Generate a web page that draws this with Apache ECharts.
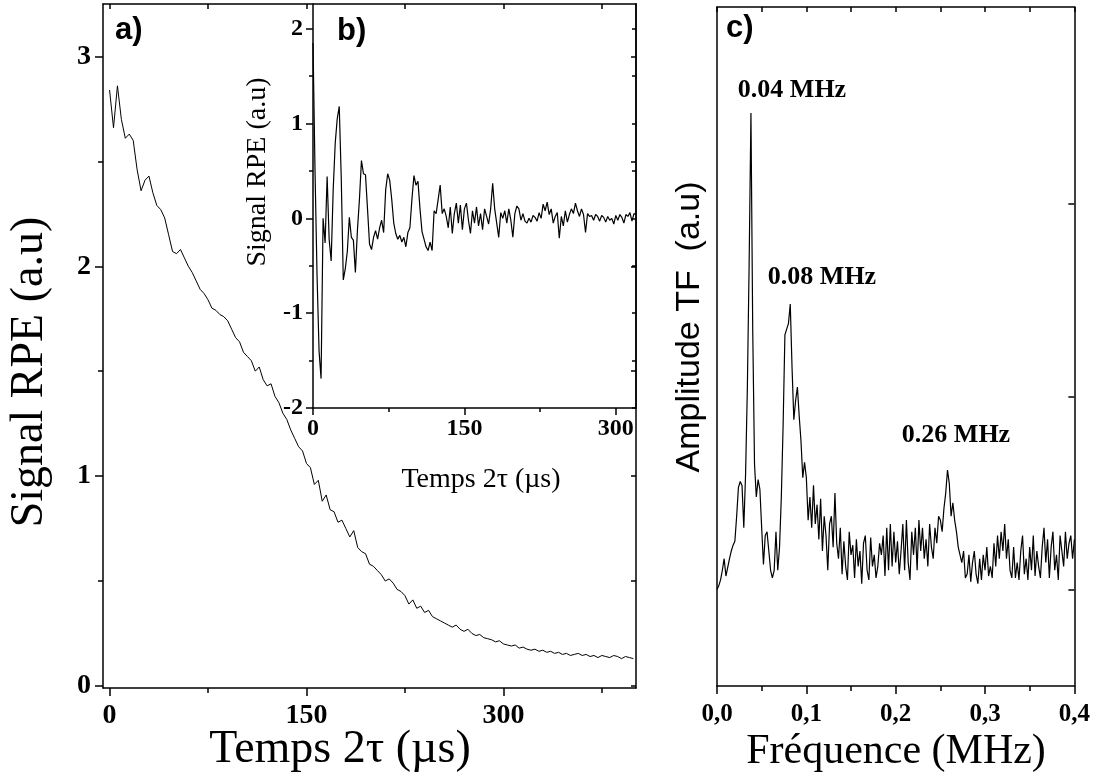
<!DOCTYPE html>
<html><head><meta charset="utf-8">
<script src="https://cdn.jsdelivr.net/npm/echarts@6/dist/echarts.min.js"></script>
<style>html,body{margin:0;padding:0;background:#fff}#c{width:1093px;height:780px}</style>
</head><body><div id="c"></div>
<script>
// ---- Panel a: echo decay (time sampling grid, µs) ----
const timeStepA = 3;
const signalA = [2.84,2.66,2.86,2.70,2.61,2.63,2.60,2.46,2.36,2.41,2.43,2.35,2.29,2.27,2.23,2.15,2.07,2.06,2.08,2.04,
2.00,1.97,1.93,1.89,1.87,1.84,1.80,1.79,1.77,1.76,1.74,1.70,1.66,1.64,1.59,1.57,1.55,1.50,1.52,1.46,
1.43,1.44,1.38,1.35,1.30,1.27,1.22,1.18,1.14,1.12,1.06,1.04,0.96,0.98,0.88,0.91,0.84,0.83,0.78,0.79,
0.75,0.71,0.74,0.66,0.64,0.63,0.58,0.57,0.55,0.53,0.50,0.51,0.49,0.46,0.45,0.43,0.39,0.41,0.37,0.38,
0.35,0.36,0.33,0.32,0.31,0.30,0.29,0.28,0.29,0.27,0.26,0.27,0.25,0.24,0.245,0.23,0.225,0.22,0.21,0.215,
0.20,0.195,0.19,0.195,0.18,0.185,0.175,0.17,0.175,0.165,0.17,0.16,0.165,0.155,0.16,0.15,0.155,0.145,0.15,0.155,
0.145,0.15,0.14,0.145,0.135,0.145,0.14,0.135,0.145,0.14,0.13,0.14,0.135,0.13];
const ticksAx = [0,150,300], minorAx = [75,225,375];
const ticksAy = [0,1,2,3], minorAy = [0.5,1.5,2.5];

// ---- Panel b: modulation (inset) ----
const timeStepB = 2;
const signalB = [1.85,0.50,-0.60,-1.40,-1.69,0.00,-0.26,0.44,-0.22,-0.45,0.30,0.79,1.05,1.18,0.42,-0.65,-0.53,-0.35,0.01,-0.20,
-0.23,-0.57,-0.13,0.20,0.61,0.47,0.46,0.10,-0.27,-0.33,-0.20,-0.13,-0.22,-0.10,-0.02,-0.15,0.30,0.47,0.40,0.20,
-0.05,-0.16,-0.22,-0.18,-0.25,-0.20,-0.30,-0.15,-0.10,0.20,0.45,0.35,0.39,0.10,-0.14,-0.22,-0.30,-0.34,-0.25,-0.34,
0.08,0.05,0.20,0.35,0.05,0.10,0.02,-0.10,0.12,-0.16,0.05,0.16,-0.05,0.14,-0.12,0.10,0.16,-0.02,-0.16,0.08,
-0.05,0.12,-0.08,0.05,-0.12,0.10,0.02,-0.06,0.10,0.37,0.10,-0.05,-0.20,0.06,0.00,0.08,-0.05,0.10,-0.02,-0.20,
0.05,0.13,0.10,-0.02,0.05,-0.03,-0.05,0.00,-0.04,0.03,0.01,-0.03,0.06,0.00,0.15,0.08,0.17,0.04,0.10,-0.05,
0.02,0.06,-0.21,0.02,-0.08,0.08,-0.04,0.04,0.10,0.05,0.16,0.08,0.02,0.10,0.04,-0.15,0.05,0.02,0.03,-0.02,
0.04,0.02,-0.03,0.03,0.01,-0.04,0.02,-0.02,0.00,-0.06,0.03,-0.02,0.04,0.01,-0.05,0.04,0.02,0.06,-0.03,0.05,0.04];
const ticksBx = [0,150,300], minorBx = [75,225];
const ticksBy = [-2,-1,0,1,2], minorBy = [-1.5,-0.5,0.5,1.5];

// ---- Panel c: Fourier transform ----
const freqStepC = 0.002;
const amplitudeC = [0.50,0.52,0.55,0.60,0.66,0.57,0.58,0.66,0.70,0.73,0.75,0.88,1.03,1.06,1.04,0.82,1.10,1.55,2.20,2.97,
1.84,1.15,0.98,1.07,1.02,0.82,0.63,0.78,0.80,0.70,0.60,0.56,0.60,0.80,0.60,0.72,0.98,1.35,1.82,1.85,
1.88,1.98,1.65,1.38,1.48,1.55,1.40,1.27,1.08,1.16,1.08,0.86,0.98,0.82,1.04,0.84,0.94,0.76,0.97,0.70,
0.88,0.78,0.60,0.84,0.88,0.72,1.00,0.74,0.66,0.82,0.58,0.75,0.62,0.55,0.80,0.68,0.73,0.56,0.76,0.62,
0.70,0.53,0.74,0.78,0.60,0.55,0.77,0.62,0.68,0.56,0.62,0.74,0.68,0.78,0.57,0.82,0.60,0.84,0.62,0.80,
0.64,0.75,0.58,0.70,0.84,0.60,0.86,0.64,0.55,0.80,0.68,0.82,0.60,0.86,0.70,0.82,0.66,0.76,0.62,0.84,
0.72,0.66,0.82,0.74,0.88,0.86,0.80,0.92,1.00,1.12,1.05,0.88,0.95,0.86,0.80,0.72,0.68,0.64,0.70,0.56,
0.58,0.68,0.54,0.64,0.70,0.58,0.53,0.66,0.55,0.68,0.60,0.72,0.57,0.62,0.56,0.74,0.62,0.78,0.66,0.80,
0.70,0.84,0.66,0.76,0.60,0.56,0.72,0.56,0.64,0.55,0.70,0.78,0.58,0.66,0.55,0.72,0.60,0.78,0.57,0.70,
0.62,0.56,0.72,0.82,0.64,0.76,0.56,0.72,0.80,0.60,0.68,0.55,0.78,0.70,0.62,0.80,0.66,0.74,0.78,0.66,0.76];
const ticksCx = [0,0.1,0.2,0.3,0.4], minorCx = [0.05,0.15,0.25,0.35];
const allCx = [0,0.05,0.1,0.15,0.2,0.25,0.3,0.35,0.4];
const ticksCy = [0.5,1.5,2.5];

const SERIF = '"Liberation Serif","Times New Roman",serif';
const SANS = '"Liberation Sans",Arial,sans-serif';
const LW = 1.5;

function ax(o) {
  return {
    type: 'value', gridIndex: o.g, min: o.min, max: o.max, position: o.pos,
    splitLine: {show: false},
    axisLine: {show: o.line !== false, onZero: false, lineStyle: {color: '#000', width: LW}},
    axisTick: {show: !!o.ticks, customValues: o.ticks || [], inside: !!o.inside, length: o.len || 8,
               lineStyle: {color: '#000', width: LW}},
    axisLabel: {show: !!o.labels, customValues: o.labels || [], margin: o.margin || 10,
                fontFamily: SERIF, fontWeight: 'bold', fontSize: o.fs || 28, color: '#000',
                formatter: o.fmt}
  };
}

const xAxis = [
  ax({g:0, min:-5, max:401, pos:'bottom', ticks:ticksAx, labels:ticksAx, len:8, margin:14, fs:28}),
  ax({g:0, min:-5, max:401, pos:'bottom', ticks:minorAx, len:5, line:false}),
  ax({g:0, min:-5, max:401, pos:'top', ticks:ticksAx.concat(minorAx), inside:true, len:5}),
  ax({g:1, min:0, max:320, pos:'bottom', ticks:ticksBx, labels:ticksBx, len:7, margin:9, fs:24}),
  ax({g:1, min:0, max:320, pos:'bottom', ticks:minorBx, len:4, line:false}),
  ax({g:2, min:0, max:0.4, pos:'bottom', ticks:ticksCx, labels:ticksCx, len:8, margin:16, fs:25,
      fmt: v => v.toFixed(1).replace('.', ',')}),
  ax({g:2, min:0, max:0.4, pos:'bottom', ticks:minorCx, len:5, line:false}),
  ax({g:2, min:0, max:0.4, pos:'top', ticks:allCx, inside:true, len:5})
];
const yAxis = [
  ax({g:0, min:-0.01, max:3.25, pos:'left', ticks:ticksAy, labels:ticksAy, len:8, margin:12, fs:28}),
  ax({g:0, min:-0.01, max:3.25, pos:'left', ticks:minorAy, len:5, line:false}),
  ax({g:0, min:-0.01, max:3.25, pos:'right', ticks:ticksAy.concat(minorAy), inside:true, len:5}),
  ax({g:1, min:-2, max:2.26, pos:'left', ticks:ticksBy, labels:ticksBy, len:7, margin:10, fs:24}),
  ax({g:1, min:-2, max:2.26, pos:'left', ticks:minorBy, len:4, line:false}),
  ax({g:1, min:-2, max:2.26, pos:'right', ticks:ticksBy.concat(minorBy), inside:true, len:4}),
  ax({g:2, min:0, max:3.52, pos:'left'}),
  ax({g:2, min:0, max:3.52, pos:'right', ticks:ticksCy, inside:true, len:6})
];

function pairs(step, vals) { return vals.map((v, i) => [+(i * step).toFixed(4), v]); }

function txt(x, y, s, font, rot, align) {
  return {type: 'text', x: x, y: y, silent: true, rotation: rot || 0,
          style: {text: s, font: font, fill: '#000', align: align || 'center', verticalAlign: 'middle'}};
}

const option = {
  animation: false,
  backgroundColor: '#fff',
  grid: [
    {left: 103, top: 4, width: 533, height: 684},
    {left: 313, top: 4, width: 323, height: 404},
    {left: 717, top: 7, width: 360, height: 679}
  ],
  xAxis: xAxis,
  yAxis: yAxis,
  series: [
    {type:'line', xAxisIndex:0, yAxisIndex:0, showSymbol:false, silent:true,
     lineStyle:{color:'#000', width:1}, data: pairs(timeStepA, signalA)},
    {type:'line', xAxisIndex:3, yAxisIndex:3, showSymbol:false, silent:true,
     lineStyle:{color:'#000', width:1.2}, data: pairs(timeStepB, signalB)},
    {type:'line', xAxisIndex:5, yAxisIndex:6, showSymbol:false, silent:true,
     lineStyle:{color:'#000', width:1.2}, data: pairs(freqStepC, amplitudeC)}
  ],
  graphic: [
    txt(115, 30, 'a)', 'bold 31px ' + SANS, 0, 'left'),
    txt(337, 31, 'b)', 'bold 31px ' + SANS, 0, 'left'),
    txt(726, 28, 'c)', 'bold 31px ' + SANS, 0, 'left'),
    txt(30, 372, 'Signal RPE (a.u)', '46px ' + SERIF, Math.PI / 2),
    txt(340, 750, 'Temps 2τ (µs)', '46px ' + SERIF),
    txt(258, 172, 'Signal RPE (a.u)', '28px ' + SERIF, Math.PI / 2),
    txt(481, 480, 'Temps 2τ (µs)', '28px ' + SERIF),
    txt(690, 327, 'Amplitude TF  (a.u)', '34px ' + SANS, Math.PI / 2),
    txt(896, 752, 'Fréquence (MHz)', '42px ' + SERIF),
    txt(792, 90, '0.04 MHz', 'bold 26px ' + SERIF),
    txt(822, 277, '0.08 MHz', 'bold 26px ' + SERIF),
    txt(956, 435, '0.26 MHz', 'bold 26px ' + SERIF)
  ]
};
echarts.init(document.getElementById('c'), null, {renderer: 'canvas'}).setOption(option);
</script></body></html>
